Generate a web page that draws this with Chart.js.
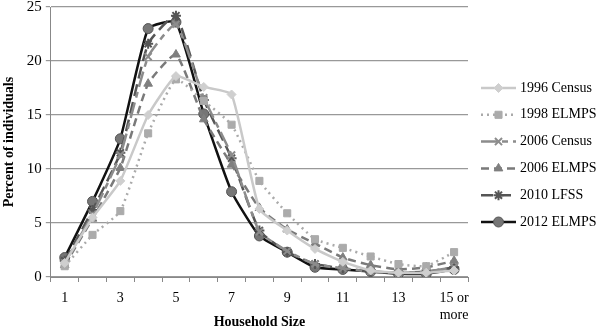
<!DOCTYPE html>
<html>
<head>
<meta charset="utf-8">
<script src="https://cdn.jsdelivr.net/npm/chart.js@4.4.1/dist/chart.umd.min.js"></script>
<style>
  html, body { margin: 0; padding: 0; background: #fff; }
  #wrap { width: 600px; height: 329px; position: relative; }
</style>
</head>
<body>
<div id="wrap"><canvas id="myChart"></canvas></div>
<script>
// household size categories
const sizes = ['1','2','3','4','5','6','7','8','9','10','11','12','13','14','15 or more'];
const yTicks = [0, 5, 10, 15, 20, 25];

// percent of individuals
const census1996 = [1.3, 5.5, 8.9, 15.0, 18.6, 17.6, 16.9, 6.3, 4.3, 2.6, 1.4, 0.6, 0.4, 0.4, 0.6];
const elmps1998  = [1.0, 3.9, 6.1, 13.3, 18.3, 16.3, 14.1, 8.9, 5.9, 3.5, 2.7, 1.9, 1.2, 1.0, 2.3];
const census2006 = [1.3, 5.8, 11.3, 20.4, 23.4, 16.6, 11.3, 4.2, 2.4, 1.2, 0.8, 0.5, 0.4, 0.5, 0.9];
const elmps2006  = [1.1, 5.4, 10.1, 17.9, 20.6, 14.6, 10.4, 6.4, 4.4, 3.1, 1.8, 1.1, 0.7, 0.9, 1.5];
const lfss2010   = [1.5, 6.2, 11.5, 21.6, 24.2, 16.4, 11.0, 4.3, 2.3, 1.2, 0.8, 0.5, 0.4, 0.5, 0.9];
const elmps2012  = [1.8, 7.0, 12.8, 23.0, 23.6, 15.1, 7.9, 3.8, 2.3, 0.9, 0.7, 0.5, 0.3, 0.3, 0.7];

const serif = "'Liberation Serif', 'Times New Roman', serif";

function series(label, data, color, fill, dash, style, radius, width) {
  return {
    label: label,
    data: data,
    borderColor: color,
    backgroundColor: fill,
    borderWidth: width,
    borderDash: dash,
    pointStyle: style,
    pointRadius: radius,
    pointBackgroundColor: fill,
    pointBorderColor: style === 'crossRot' || style === 'star' ? color : fill,
    pointBorderWidth: style === 'crossRot' || style === 'star' ? 2 : 1,
    tension: 0.15,
    fill: false
  };
}

const datasets = [
  series('1996 Census', census1996, '#c9c9c9', '#cfcfcf', [], 'rectRot', 4.5, 2.5),
  series('1998 ELMPS', elmps1998, '#aaaaaa', '#ababab', [2, 4], 'rect', 5, 2.5),
  series('2006 Census', census2006, '#8c8c8c', '#8c8c8c', [16, 5, 6, 5], 'crossRot', 5, 2.5),
  series('2006 ELMPS', elmps2006, '#7a7a7a', '#7f7f7f', [8, 5], 'triangle', 5, 2.5),
  series('2010 LFSS', lfss2010, '#555555', '#555555', [12, 6], 'star', 5, 2.5),
  series('2012 ELMPS', elmps2012, '#111111', '#767676', [], 'circle', 5, 2.5)
];
datasets[5].pointBorderColor = '#555';

// legend and x title drawn by hand
const sideLegend = {
  id: 'sideLegend',
  afterDraw(chart) {
    const c = chart.ctx;
    const x0 = 481, x1 = 516, top = 88, step = 26.8;
    chart.data.datasets.forEach((ds, i) => {
      const y = top + i * step;
      c.save();
      c.strokeStyle = ds.borderColor;
      c.lineWidth = ds.borderWidth;
      c.setLineDash(ds.borderDash);
      c.beginPath();
      c.moveTo(x0, y);
      c.lineTo(x1, y);
      c.stroke();
      c.setLineDash([]);
      c.fillStyle = ds.pointBackgroundColor;
      c.strokeStyle = ds.pointBorderColor;
      c.lineWidth = ds.pointBorderWidth;
      Chart.helpers.drawPoint(c, { pointStyle: ds.pointStyle, radius: ds.pointRadius, rotation: 0, borderWidth: ds.pointBorderWidth }, (x0 + x1) / 2, y);
      c.fillStyle = '#000';
      c.font = '14px ' + serif;
      c.textBaseline = 'middle';
      c.textAlign = 'left';
      c.fillText(ds.label, x1 + 4, y);
      c.restore();
    });
    const area = chart.chartArea;
    c.save();
    c.fillStyle = '#000';
    c.font = 'bold 14px ' + serif;
    c.textAlign = 'center';
    c.textBaseline = 'middle';
    c.fillText('Household Size', (area.left + area.right) / 2, 322);
    c.restore();
  }
};

const ctx = document.getElementById('myChart').getContext('2d');
const myChart = new Chart(ctx, {
  type: 'line',
  data: { labels: sizes, datasets: datasets },
  options: {
    responsive: true,
    maintainAspectRatio: false,
    animation: false,
    layout: { padding: { left: 1, right: 132, top: 5, bottom: 0 } },
    plugins: {
      legend: { display: false },
      tooltip: { enabled: false }
    },
    scales: {
      x: {
        type: 'category',
        offset: true,
        afterFit: function(axis) { axis.height = 52; },
        grid: { display: true, offset: true, drawOnChartArea: false, drawTicks: true, tickLength: 5, color: '#888' },
        border: { display: true, color: '#888', width: 1 },
        ticks: {
          autoSkip: false,
          maxRotation: 0,
          color: '#000',
          font: { family: serif, size: 14 },
          padding: 8,
          callback: function(v, i) {
            if (i % 2 === 1) return '';
            const s = sizes[i];
            return s === '15 or more' ? ['15 or', 'more'] : s;
          }
        }
      },
      y: {
        min: 0,
        max: 25,
        afterBuildTicks: function(axis) {
          axis.ticks = yTicks.map(v => ({ value: v }));
        },
        afterFit: function(axis) { axis.paddingTop = 0; axis.paddingBottom = 0; },
        grid: { color: '#999', lineWidth: 1.2, tickLength: 5 },
        border: { display: true, color: '#888', width: 1 },
        ticks: {
          color: '#000',
          font: { family: serif, size: 15 },
          padding: 4
        },
        title: {
          display: true,
          text: 'Percent of individuals',
          color: '#000',
          font: { family: serif, size: 14, weight: 'bold' },
          padding: { top: 0, bottom: 5 }
        }
      }
    }
  },
  plugins: [sideLegend]
});
</script>
</body>
</html>
